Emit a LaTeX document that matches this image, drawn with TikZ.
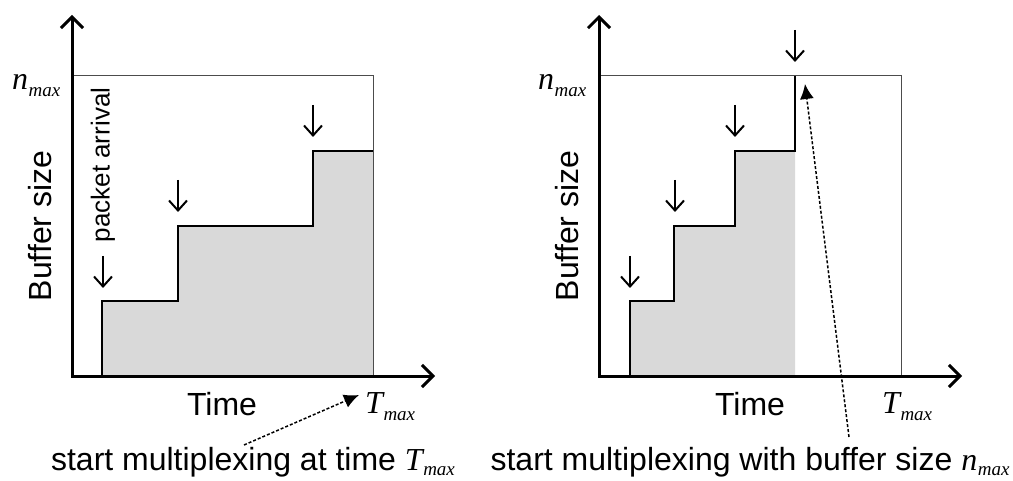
\documentclass[tikz,border=0pt]{standalone}
\usepackage{fontspec}
\setmainfont{Liberation Sans}
\newfontfamily\tnr{Liberation Serif}
\usetikzlibrary{arrows.meta}
\newcommand{\mxsub}[1]{{\tnr\itshape #1\kern0.5pt\raisebox{-7pt}{\fontsize{19}{19}\selectfont max}}}
\newcommand{\mxsubc}[1]{{\tnr\itshape #1\kern0.5pt\raisebox{-5pt}{\fontsize{19}{19}\selectfont max}}}
\tikzset{
  axisline/.style={line width=3pt, line join=miter, {Straight Barb[length=11pt,width=22pt]}-{Straight Barb[length=11pt,width=22pt]}},
  boxline/.style={draw=black!70, line width=1pt},
  lbl/.style={font=\fontsize{32}{32}\selectfont, inner sep=0pt},
  varlbl/.style={font=\fontsize{32}{32}\selectfont, inner sep=0pt},
  downarr/.style={line width=2pt, -{Straight Barb[length=10pt,width=18pt]}},
  dotarrow/.style={line width=1.5pt, dash pattern=on 3pt off 2pt, -{Latex[length=15pt,width=14pt]}}
}
\begin{document}
\begin{tikzpicture}[x=1pt,y=-1pt]
\useasboundingbox (0,0) rectangle (1013,481);
% ---------- left panel ----------
\coordinate (ly) at (72,15);
\coordinate (lo) at (72,376);
\coordinate (lx) at (435,376);
\fill[black!15] (102,376) -- (102,301) -- (178,301) -- (178,226) -- (313,226) -- (313,151) -- (373,151) -- (373,376) -- cycle;
\draw[black, line width=1.2pt] (102,376) -- (102,301) -- (178,301) -- (178,226) -- (313,226) -- (313,151) -- (373,151);
\draw[boxline] (72,76) -- (373,76) -- (373,376);
\draw[axisline] (ly) -- (lo) -- (lx);
\node[varlbl, anchor=base west] (lnmax) at (12,90) {\mxsub{n}};
\node[lbl, rotate=90] (lbuf) at (40,226) {Buffer size};
\node[lbl, anchor=base] (ltime) at (222,415) {Time};
\node[varlbl, anchor=base west] (ltmax) at (365,413) {\mxsub{T}};
\coordinate (la1t) at (103,256); \coordinate (la1b) at (103,288);
\coordinate (la2t) at (178,180); \coordinate (la2b) at (178,212);
\coordinate (la3t) at (313,105); \coordinate (la3b) at (313,137);
\draw[downarr] (la1t) -- (la1b);
\draw[downarr] (la2t) -- (la2b);
\draw[downarr] (la3t) -- (la3b);
\node[font=\fontsize{26}{26}\selectfont, inner sep=0pt, rotate=90] (lpa) at (103,165) {packet arrival};
\node[lbl, anchor=base] (lcap) at (253,470) {start multiplexing at time \mxsubc{T}};
\coordinate (lcs) at (244,445);
\coordinate (lce) at (359,395);
\draw[dotarrow] (lcs) -- (lce);
% ---------- right panel ----------
\coordinate (ry) at (599,15);
\coordinate (ro) at (599,376);
\coordinate (rx) at (962,376);
\fill[black!15] (630,376) -- (630,301) -- (674,301) -- (674,226) -- (735,226) -- (735,151) -- (795,151) -- (795,376) -- cycle;
\draw[black, line width=1.2pt] (630,376) -- (630,301) -- (674,301) -- (674,226) -- (735,226) -- (735,151) -- (795,151) -- (795,76);
\draw[boxline] (599,76) -- (901,76) -- (901,376);
\draw[axisline] (ry) -- (ro) -- (rx);
\node[varlbl, anchor=base west] (rnmax) at (538,90) {\mxsub{n}};
\node[lbl, rotate=90] (rbuf) at (567,226) {Buffer size};
\node[lbl, anchor=base] (rtime) at (750,415) {Time};
\node[varlbl, anchor=base west] (rtmax) at (882,413) {\mxsub{T}};
\coordinate (ra1t) at (630,256); \coordinate (ra1b) at (630,288);
\coordinate (ra2t) at (675,180); \coordinate (ra2b) at (675,212);
\coordinate (ra3t) at (735,105); \coordinate (ra3b) at (735,137);
\coordinate (ra4t) at (795,30);  \coordinate (ra4b) at (795,62);
\draw[downarr] (ra1t) -- (ra1b);
\draw[downarr] (ra2t) -- (ra2b);
\draw[downarr] (ra3t) -- (ra3b);
\draw[downarr] (ra4t) -- (ra4b);
\node[lbl, anchor=base] (rcap) at (750,470) {start multiplexing with buffer size \mxsubc{n}};
\coordinate (rcs) at (849,437);
\coordinate (rce) at (805,84);
\draw[dotarrow] (rcs) -- (rce);
\end{tikzpicture}
\end{document}
